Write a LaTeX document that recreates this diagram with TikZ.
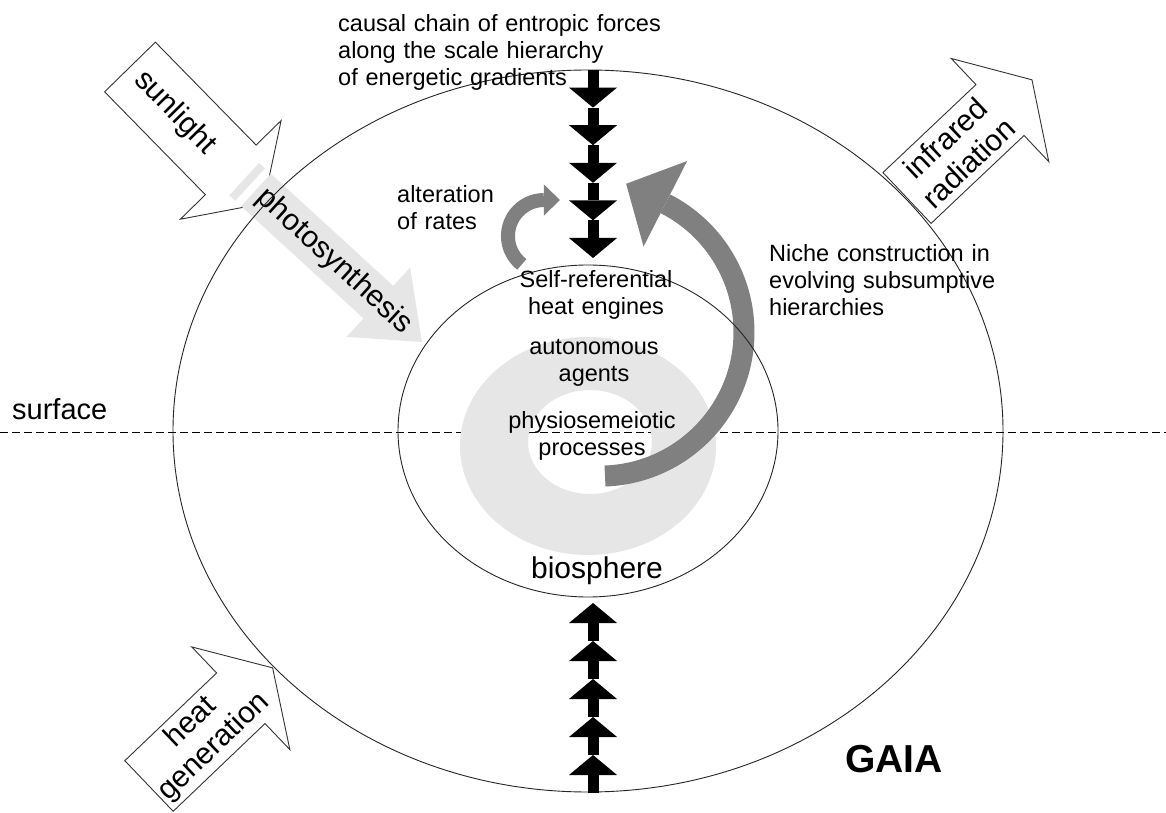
\documentclass[tikz,border=0pt]{standalone}
\usepackage{fontspec}
\setmainfont{Liberation Sans}
\usepackage{xcolor}
\usetikzlibrary{arrows.meta,shapes.geometric}

\definecolor{ringgray}{HTML}{E6E6E6}
\definecolor{loopgray}{HTML}{808080}

\tikzset{
  smalltext/.style={inner sep=0pt, font=\fontsize{23.5}{27}\selectfont},
  bigtext/.style={inner sep=0pt, font=\fontsize{30}{34}\selectfont},
  fluxbox/.style={draw=black!80, fill=white, line width=0.9pt, line join=miter},
  chainarrow/.style={line width=11pt, -{Triangle[width=48pt,length=20pt,line width=0pt]}},
}

\begin{document}
\begin{tikzpicture}[x=1pt, y=1pt]
  \useasboundingbox (0,0) rectangle (1166,812);
  \fill[white] (0,0) rectangle (1166,812);

  % surface line
  \coordinate (surfaceL) at (0,380);
  \coordinate (surfaceR) at (1166,380);
  \draw[line width=0.9pt, dash pattern=on 8pt off 4pt] (surfaceL) -- (surfaceR);
  \node[inner sep=0pt, font=\fontsize{29}{32}\selectfont, anchor=base west] (surface) at (12,392) {surface};

  % ring of agents
  \fill[ringgray, even odd rule] (588,366) ellipse[x radius=128, y radius=109]
                                 (590,370) ellipse[x radius=62, y radius=52];

  % niche construction loop
  \coordinate (nicheTail) at (605,336);
  \draw[loopgray, line width=21pt] (nicheTail) arc[start angle=-88, end angle=63, radius=144] coordinate (nicheEnd);
  \fill[loopgray, shift={(nicheEnd)}, rotate=153] (0,48) -- (44,0) -- (0,-48) -- cycle;

  % alteration of rates loop
  \coordinate (rateTail) at (521.8,547.6);
  \draw[loopgray, line width=14pt] (rateTail) arc[start angle=232, end angle=90, radius=36] coordinate (rateEnd);
  \fill[loopgray, shift={(rateEnd)}] (0,15.5) -- (16,0) -- (0,-15.5) -- cycle;

  % sunlight in
  \begin{scope}[shift={(130,745)}, rotate=-45.6]
    \draw[fluxbox] (0,35.5) -- (144,35.5) -- (144,70.5) -- (191,0) -- (144,-70.5) -- (144,-35.5) -- (0,-35.5) -- cycle;
    \node[bigtext, transform shape] (sunlight) at (64,0) {sunlight};
  \end{scope}

  % photosynthesis
  \begin{scope}[shift={(256,622)}, rotate=-42.5]
    \fill[ringgray] (-16,22) rectangle (-8,-22);
    \fill[ringgray] (0,22) -- (166,22) -- (166,47) -- (225,0) -- (166,-47) -- (166,-22) -- (0,-22) -- cycle;
    \node[bigtext, transform shape] (photo) at (106,0) {photosynthesis};
  \end{scope}

  % spheres
  \node[draw=black!85, line width=0.9pt, ellipse, minimum width=830pt, minimum height=722pt, inner sep=0pt] (gaia) at (588,381) {};
  \node[draw=black!85, line width=0.9pt, ellipse, minimum width=380pt, minimum height=332pt, inner sep=0pt] (bio) at (588,381) {};

  % infrared out
  \begin{scope}[shift={(907,614)}, rotate=43.4]
    \draw[fluxbox] (0,35) -- (128,35) -- (128,71) -- (172,0) -- (128,-71) -- (128,-35) -- (0,-35) -- cycle;
    \node[bigtext, transform shape, align=center] (infrared) at (69,0) {infrared\\radiation};
  \end{scope}

  % heat in
  \begin{scope}[shift={(149,26)}, rotate=43.7]
    \draw[fluxbox] (0,35) -- (127,35) -- (127,71) -- (171,0) -- (127,-71) -- (127,-35) -- (0,-35) -- cycle;
    \node[bigtext, transform shape, align=center] (heat) at (74,0) {heat\\generation};
  \end{scope}

  % chains of entropic forces
  \foreach \i in {0,...,5} {
    \coordinate (down\i) at (593,{742-37.6*\i});
    \coordinate (up\i) at (593,{19+38*\i});
  }
  \foreach \i/\j in {0/1,1/2,2/3,3/4,4/5} {
    \draw[chainarrow] (down\i) -- (down\j);
    \draw[chainarrow] (up\i) -- (up\j);
  }

  % labels
  \node[smalltext, text width=330pt, align=left, anchor=base west] (causal) at (338,780)
    {causal chain of entropic forces\\along the scale hierarchy\\of energetic gradients};
  \node[smalltext, text width=120pt, align=left, anchor=base west] (rates) at (397,609) {alteration\\of rates};
  \node[smalltext, text width=250pt, align=left, anchor=base west] (niche) at (769,550)
    {Niche construction in\\evolving subsumptive\\hierarchies};
  \node[smalltext, text width=200pt, align=center, anchor=base] (engines) at (596,524) {Self-referential\\heat engines};
  \node[smalltext, text width=200pt, align=center, anchor=base] (agents) at (594,457) {autonomous\\agents};
  \node[smalltext, text width=200pt, align=center, anchor=base] (processes) at (592,384) {physiosemeiotic\\processes};
  \node[bigtext, anchor=base] (biosphere) at (597,234) {biosphere};
  \node[inner sep=0pt, font=\bfseries\fontsize{39}{42}\selectfont, anchor=base west] (gaiatext) at (845,40) {GAIA};
\end{tikzpicture}
\end{document}
